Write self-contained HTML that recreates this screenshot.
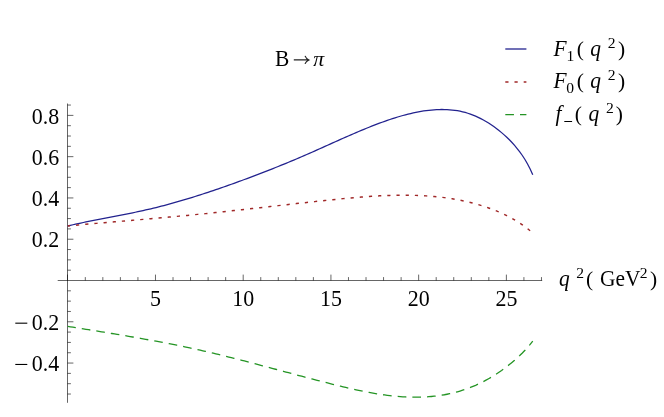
<!DOCTYPE html>
<html><head><meta charset="utf-8"><style>
html,body{margin:0;padding:0;background:#fff;}
svg{display:block;font-family:"Liberation Serif",serif;}
</style></head><body>
<svg width="664" height="417" viewBox="0 0 664 417">
<rect width="664" height="417" fill="#fff"/>
<line x1="57.7" y1="280.5" x2="542.2" y2="280.5" stroke="#000" stroke-opacity="0.6" stroke-width="1"/>
<line x1="67.5" y1="103.5" x2="67.5" y2="402.8" stroke="#000" stroke-opacity="0.6" stroke-width="1"/>
<line x1="67.50" y1="280.5" x2="67.50" y2="274.6" stroke="#000" stroke-opacity="0.6" stroke-width="1"/>
<line x1="85.30" y1="280.5" x2="85.30" y2="277.1" stroke="#000" stroke-opacity="0.6" stroke-width="1"/>
<line x1="102.84" y1="280.5" x2="102.84" y2="277.1" stroke="#000" stroke-opacity="0.6" stroke-width="1"/>
<line x1="120.39" y1="280.5" x2="120.39" y2="277.1" stroke="#000" stroke-opacity="0.6" stroke-width="1"/>
<line x1="137.93" y1="280.5" x2="137.93" y2="277.1" stroke="#000" stroke-opacity="0.6" stroke-width="1"/>
<line x1="155.48" y1="280.5" x2="155.48" y2="274.6" stroke="#000" stroke-opacity="0.6" stroke-width="1"/>
<line x1="173.02" y1="280.5" x2="173.02" y2="277.1" stroke="#000" stroke-opacity="0.6" stroke-width="1"/>
<line x1="190.56" y1="280.5" x2="190.56" y2="277.1" stroke="#000" stroke-opacity="0.6" stroke-width="1"/>
<line x1="208.11" y1="280.5" x2="208.11" y2="277.1" stroke="#000" stroke-opacity="0.6" stroke-width="1"/>
<line x1="225.66" y1="280.5" x2="225.66" y2="277.1" stroke="#000" stroke-opacity="0.6" stroke-width="1"/>
<line x1="243.20" y1="280.5" x2="243.20" y2="274.6" stroke="#000" stroke-opacity="0.6" stroke-width="1"/>
<line x1="260.75" y1="280.5" x2="260.75" y2="277.1" stroke="#000" stroke-opacity="0.6" stroke-width="1"/>
<line x1="278.29" y1="280.5" x2="278.29" y2="277.1" stroke="#000" stroke-opacity="0.6" stroke-width="1"/>
<line x1="295.84" y1="280.5" x2="295.84" y2="277.1" stroke="#000" stroke-opacity="0.6" stroke-width="1"/>
<line x1="313.38" y1="280.5" x2="313.38" y2="277.1" stroke="#000" stroke-opacity="0.6" stroke-width="1"/>
<line x1="330.93" y1="280.5" x2="330.93" y2="274.6" stroke="#000" stroke-opacity="0.6" stroke-width="1"/>
<line x1="348.47" y1="280.5" x2="348.47" y2="277.1" stroke="#000" stroke-opacity="0.6" stroke-width="1"/>
<line x1="366.02" y1="280.5" x2="366.02" y2="277.1" stroke="#000" stroke-opacity="0.6" stroke-width="1"/>
<line x1="383.56" y1="280.5" x2="383.56" y2="277.1" stroke="#000" stroke-opacity="0.6" stroke-width="1"/>
<line x1="401.11" y1="280.5" x2="401.11" y2="277.1" stroke="#000" stroke-opacity="0.6" stroke-width="1"/>
<line x1="418.65" y1="280.5" x2="418.65" y2="274.6" stroke="#000" stroke-opacity="0.6" stroke-width="1"/>
<line x1="436.20" y1="280.5" x2="436.20" y2="277.1" stroke="#000" stroke-opacity="0.6" stroke-width="1"/>
<line x1="453.74" y1="280.5" x2="453.74" y2="277.1" stroke="#000" stroke-opacity="0.6" stroke-width="1"/>
<line x1="471.29" y1="280.5" x2="471.29" y2="277.1" stroke="#000" stroke-opacity="0.6" stroke-width="1"/>
<line x1="488.83" y1="280.5" x2="488.83" y2="277.1" stroke="#000" stroke-opacity="0.6" stroke-width="1"/>
<line x1="506.38" y1="280.5" x2="506.38" y2="274.6" stroke="#000" stroke-opacity="0.6" stroke-width="1"/>
<line x1="523.92" y1="280.5" x2="523.92" y2="277.1" stroke="#000" stroke-opacity="0.6" stroke-width="1"/>
<line x1="541.47" y1="280.5" x2="541.47" y2="277.1" stroke="#000" stroke-opacity="0.6" stroke-width="1"/>
<line x1="67.5" y1="394.02" x2="70.9" y2="394.02" stroke="#000" stroke-opacity="0.6" stroke-width="1"/>
<line x1="67.5" y1="383.70" x2="70.9" y2="383.70" stroke="#000" stroke-opacity="0.6" stroke-width="1"/>
<line x1="67.5" y1="373.38" x2="70.9" y2="373.38" stroke="#000" stroke-opacity="0.6" stroke-width="1"/>
<line x1="67.5" y1="363.06" x2="73.4" y2="363.06" stroke="#000" stroke-opacity="0.6" stroke-width="1"/>
<line x1="67.5" y1="352.74" x2="70.9" y2="352.74" stroke="#000" stroke-opacity="0.6" stroke-width="1"/>
<line x1="67.5" y1="342.42" x2="70.9" y2="342.42" stroke="#000" stroke-opacity="0.6" stroke-width="1"/>
<line x1="67.5" y1="332.10" x2="70.9" y2="332.10" stroke="#000" stroke-opacity="0.6" stroke-width="1"/>
<line x1="67.5" y1="321.78" x2="73.4" y2="321.78" stroke="#000" stroke-opacity="0.6" stroke-width="1"/>
<line x1="67.5" y1="311.46" x2="70.9" y2="311.46" stroke="#000" stroke-opacity="0.6" stroke-width="1"/>
<line x1="67.5" y1="301.14" x2="70.9" y2="301.14" stroke="#000" stroke-opacity="0.6" stroke-width="1"/>
<line x1="67.5" y1="290.82" x2="70.9" y2="290.82" stroke="#000" stroke-opacity="0.6" stroke-width="1"/>
<line x1="67.5" y1="270.18" x2="70.9" y2="270.18" stroke="#000" stroke-opacity="0.6" stroke-width="1"/>
<line x1="67.5" y1="259.86" x2="70.9" y2="259.86" stroke="#000" stroke-opacity="0.6" stroke-width="1"/>
<line x1="67.5" y1="249.54" x2="70.9" y2="249.54" stroke="#000" stroke-opacity="0.6" stroke-width="1"/>
<line x1="67.5" y1="239.22" x2="73.4" y2="239.22" stroke="#000" stroke-opacity="0.6" stroke-width="1"/>
<line x1="67.5" y1="228.90" x2="70.9" y2="228.90" stroke="#000" stroke-opacity="0.6" stroke-width="1"/>
<line x1="67.5" y1="218.58" x2="70.9" y2="218.58" stroke="#000" stroke-opacity="0.6" stroke-width="1"/>
<line x1="67.5" y1="208.26" x2="70.9" y2="208.26" stroke="#000" stroke-opacity="0.6" stroke-width="1"/>
<line x1="67.5" y1="197.94" x2="73.4" y2="197.94" stroke="#000" stroke-opacity="0.6" stroke-width="1"/>
<line x1="67.5" y1="187.62" x2="70.9" y2="187.62" stroke="#000" stroke-opacity="0.6" stroke-width="1"/>
<line x1="67.5" y1="177.30" x2="70.9" y2="177.30" stroke="#000" stroke-opacity="0.6" stroke-width="1"/>
<line x1="67.5" y1="166.98" x2="70.9" y2="166.98" stroke="#000" stroke-opacity="0.6" stroke-width="1"/>
<line x1="67.5" y1="156.66" x2="73.4" y2="156.66" stroke="#000" stroke-opacity="0.6" stroke-width="1"/>
<line x1="67.5" y1="146.34" x2="70.9" y2="146.34" stroke="#000" stroke-opacity="0.6" stroke-width="1"/>
<line x1="67.5" y1="136.02" x2="70.9" y2="136.02" stroke="#000" stroke-opacity="0.6" stroke-width="1"/>
<line x1="67.5" y1="125.70" x2="70.9" y2="125.70" stroke="#000" stroke-opacity="0.6" stroke-width="1"/>
<line x1="67.5" y1="115.38" x2="73.4" y2="115.38" stroke="#000" stroke-opacity="0.6" stroke-width="1"/>
<line x1="67.5" y1="105.06" x2="70.9" y2="105.06" stroke="#000" stroke-opacity="0.6" stroke-width="1"/>
<line x1="15.3" y1="323.18" x2="27.3" y2="323.18" stroke="#000" stroke-width="1.1"/>
<line x1="15.3" y1="364.46" x2="27.3" y2="364.46" stroke="#000" stroke-width="1.1"/>
<path d="M293.8 59.9 H308.3 M305 55.9 Q306 58.6 308.9 59.9 Q306 61.2 305 63.9" fill="none" stroke="#222" stroke-width="1.15"/>
<line x1="505.3" y1="49.00" x2="526.4" y2="49.00" stroke="#22228e" stroke-width="1.3"/>
<line x1="505.3" y1="82.00" x2="526.4" y2="82.00" stroke="#a02828" stroke-width="1.3" stroke-dasharray="3.2 5.996"/>
<line x1="505.3" y1="114.60" x2="526.4" y2="114.60" stroke="#249424" stroke-width="1.3" stroke-dasharray="8.65 6.05"/>
<line x1="564.3" y1="121.50" x2="572.0999999999999" y2="121.50" stroke="#000" stroke-width="1"/>
<path d="M67.75 225.94 L70.35 225.34 L72.95 224.75 L75.54 224.17 L78.14 223.61 L80.74 223.06 L83.34 222.51 L85.93 221.98 L88.53 221.45 L91.13 220.93 L93.73 220.41 L96.33 219.90 L98.92 219.39 L101.52 218.89 L104.12 218.39 L106.72 217.89 L109.31 217.39 L111.91 216.89 L114.51 216.39 L117.11 215.89 L119.71 215.38 L122.30 214.88 L124.90 214.36 L127.50 213.84 L130.10 213.32 L132.69 212.78 L135.29 212.24 L137.89 211.69 L140.49 211.13 L143.09 210.56 L145.68 209.98 L148.28 209.38 L150.88 208.77 L153.48 208.15 L156.07 207.52 L158.67 206.87 L161.27 206.20 L163.87 205.53 L166.47 204.84 L169.06 204.14 L171.66 203.42 L174.26 202.70 L176.86 201.96 L179.45 201.22 L182.05 200.46 L184.65 199.69 L187.25 198.90 L189.84 198.11 L192.44 197.31 L195.04 196.50 L197.64 195.68 L200.24 194.85 L202.83 194.01 L205.43 193.16 L208.03 192.30 L210.63 191.44 L213.22 190.56 L215.82 189.68 L218.42 188.79 L221.02 187.90 L223.62 186.99 L226.21 186.08 L228.81 185.17 L231.41 184.24 L234.01 183.31 L236.60 182.38 L239.20 181.43 L241.80 180.48 L244.40 179.53 L247.00 178.57 L249.59 177.60 L252.19 176.62 L254.79 175.64 L257.39 174.65 L259.98 173.66 L262.58 172.65 L265.18 171.65 L267.78 170.63 L270.38 169.61 L272.97 168.58 L275.57 167.54 L278.17 166.49 L280.77 165.44 L283.36 164.38 L285.96 163.32 L288.56 162.24 L291.16 161.16 L293.76 160.07 L296.35 158.97 L298.95 157.87 L301.55 156.76 L304.15 155.64 L306.74 154.51 L309.34 153.38 L311.94 152.24 L314.54 151.09 L317.14 149.93 L319.73 148.77 L322.33 147.61 L324.93 146.44 L327.53 145.27 L330.12 144.10 L332.72 142.93 L335.32 141.76 L337.92 140.60 L340.52 139.44 L343.11 138.28 L345.71 137.13 L348.31 135.99 L350.91 134.85 L353.50 133.73 L356.10 132.61 L358.70 131.50 L361.30 130.41 L363.90 129.33 L366.49 128.26 L369.09 127.21 L371.69 126.18 L374.29 125.17 L376.88 124.17 L379.48 123.19 L382.08 122.23 L384.68 121.30 L387.28 120.39 L389.87 119.50 L392.47 118.65 L395.07 117.82 L397.67 117.02 L400.26 116.25 L402.86 115.51 L405.46 114.81 L408.06 114.14 L410.66 113.52 L413.25 112.93 L415.85 112.38 L418.45 111.87 L421.05 111.41 L423.64 110.99 L426.24 110.62 L428.84 110.30 L431.44 110.03 L434.03 109.81 L436.63 109.64 L439.23 109.54 L441.83 109.49 L444.43 109.52 L447.02 109.61 L449.62 109.77 L452.22 110.01 L454.82 110.33 L457.41 110.73 L460.01 111.22 L462.61 111.80 L465.21 112.47 L467.81 113.24 L470.40 114.11 L473.00 115.08 L475.60 116.15 L478.20 117.32 L480.79 118.60 L483.39 119.99 L485.99 121.47 L488.59 123.07 L491.19 124.77 L493.78 126.57 L496.38 128.48 L498.98 130.50 L501.58 132.63 L504.17 134.87 L506.77 137.25 L509.37 139.79 L511.97 142.50 L514.57 145.41 L517.16 148.54 L519.76 151.89 L522.36 155.51 L524.96 159.49 L527.55 163.94 L530.15 168.97 L532.75 174.72" fill="none" stroke="#22228e" stroke-width="1.25"/>
<path d="M67.75 225.92 L70.35 225.68 L72.95 225.45 L75.54 225.21 L78.14 224.98 L80.74 224.74 L83.34 224.51 L85.93 224.28 L88.53 224.06 L91.13 223.83 L93.73 223.60 L96.33 223.38 L98.92 223.15 L101.52 222.93 L104.12 222.71 L106.72 222.48 L109.31 222.26 L111.91 222.04 L114.51 221.82 L117.11 221.60 L119.71 221.38 L122.30 221.15 L124.90 220.93 L127.50 220.71 L130.10 220.49 L132.69 220.27 L135.29 220.05 L137.89 219.83 L140.49 219.60 L143.09 219.38 L145.68 219.16 L148.28 218.93 L150.88 218.71 L153.48 218.48 L156.07 218.25 L158.67 218.02 L161.27 217.79 L163.87 217.56 L166.47 217.33 L169.06 217.09 L171.66 216.86 L174.26 216.62 L176.86 216.38 L179.45 216.14 L182.05 215.90 L184.65 215.65 L187.25 215.41 L189.84 215.16 L192.44 214.91 L195.04 214.65 L197.64 214.40 L200.24 214.14 L202.83 213.88 L205.43 213.62 L208.03 213.35 L210.63 213.08 L213.22 212.81 L215.82 212.54 L218.42 212.27 L221.02 211.99 L223.62 211.71 L226.21 211.43 L228.81 211.15 L231.41 210.87 L234.01 210.58 L236.60 210.30 L239.20 210.01 L241.80 209.73 L244.40 209.44 L247.00 209.15 L249.59 208.86 L252.19 208.57 L254.79 208.27 L257.39 207.98 L259.98 207.69 L262.58 207.39 L265.18 207.10 L267.78 206.81 L270.38 206.51 L272.97 206.22 L275.57 205.93 L278.17 205.63 L280.77 205.34 L283.36 205.05 L285.96 204.76 L288.56 204.46 L291.16 204.17 L293.76 203.88 L296.35 203.59 L298.95 203.30 L301.55 203.02 L304.15 202.73 L306.74 202.45 L309.34 202.16 L311.94 201.88 L314.54 201.60 L317.14 201.32 L319.73 201.04 L322.33 200.77 L324.93 200.50 L327.53 200.22 L330.12 199.95 L332.72 199.69 L335.32 199.42 L337.92 199.16 L340.52 198.90 L343.11 198.65 L345.71 198.40 L348.31 198.16 L350.91 197.92 L353.50 197.69 L356.10 197.47 L358.70 197.25 L361.30 197.04 L363.90 196.84 L366.49 196.65 L369.09 196.47 L371.69 196.30 L374.29 196.13 L376.88 195.98 L379.48 195.84 L382.08 195.72 L384.68 195.60 L387.28 195.50 L389.87 195.41 L392.47 195.34 L395.07 195.28 L397.67 195.23 L400.26 195.20 L402.86 195.19 L405.46 195.19 L408.06 195.22 L410.66 195.25 L413.25 195.31 L415.85 195.39 L418.45 195.48 L421.05 195.59 L423.64 195.73 L426.24 195.88 L428.84 196.06 L431.44 196.26 L434.03 196.48 L436.63 196.73 L439.23 197.00 L441.83 197.30 L444.43 197.62 L447.02 197.98 L449.62 198.36 L452.22 198.76 L454.82 199.20 L457.41 199.67 L460.01 200.17 L462.61 200.70 L465.21 201.26 L467.81 201.86 L470.40 202.49 L473.00 203.16 L475.60 203.86 L478.20 204.60 L480.79 205.37 L483.39 206.19 L485.99 207.04 L488.59 207.94 L491.19 208.89 L493.78 209.88 L496.38 210.92 L498.98 212.02 L501.58 213.17 L504.17 214.38 L506.77 215.65 L509.37 216.98 L511.97 218.38 L514.57 219.85 L517.16 221.40 L519.76 223.05 L522.36 224.80 L524.96 226.66 L527.55 228.65 L530.15 230.77 L532.75 233.04" fill="none" stroke="#a02828" stroke-width="1.45" stroke-dasharray="3.2 5.996" stroke-dashoffset="0.85"/>
<path d="M67.75 326.40 L70.35 326.81 L72.95 327.23 L75.54 327.64 L78.14 328.06 L80.74 328.47 L83.34 328.89 L85.93 329.30 L88.53 329.71 L91.13 330.13 L93.73 330.55 L96.33 330.96 L98.92 331.38 L101.52 331.80 L104.12 332.22 L106.72 332.65 L109.31 333.07 L111.91 333.50 L114.51 333.92 L117.11 334.35 L119.71 334.79 L122.30 335.22 L124.90 335.66 L127.50 336.10 L130.10 336.54 L132.69 336.99 L135.29 337.44 L137.89 337.89 L140.49 338.35 L143.09 338.81 L145.68 339.27 L148.28 339.74 L150.88 340.21 L153.48 340.69 L156.07 341.17 L158.67 341.66 L161.27 342.15 L163.87 342.65 L166.47 343.15 L169.06 343.65 L171.66 344.16 L174.26 344.68 L176.86 345.20 L179.45 345.73 L182.05 346.27 L184.65 346.81 L187.25 347.35 L189.84 347.91 L192.44 348.47 L195.04 349.04 L197.64 349.61 L200.24 350.19 L202.83 350.78 L205.43 351.37 L208.03 351.98 L210.63 352.59 L213.22 353.20 L215.82 353.82 L218.42 354.45 L221.02 355.08 L223.62 355.72 L226.21 356.36 L228.81 357.01 L231.41 357.66 L234.01 358.32 L236.60 358.98 L239.20 359.65 L241.80 360.32 L244.40 360.99 L247.00 361.66 L249.59 362.34 L252.19 363.02 L254.79 363.71 L257.39 364.40 L259.98 365.08 L262.58 365.78 L265.18 366.47 L267.78 367.16 L270.38 367.86 L272.97 368.55 L275.57 369.25 L278.17 369.95 L280.77 370.64 L283.36 371.34 L285.96 372.04 L288.56 372.73 L291.16 373.43 L293.76 374.13 L296.35 374.82 L298.95 375.51 L301.55 376.20 L304.15 376.89 L306.74 377.58 L309.34 378.26 L311.94 378.95 L314.54 379.63 L317.14 380.30 L319.73 380.97 L322.33 381.64 L324.93 382.31 L327.53 382.97 L330.12 383.63 L332.72 384.28 L335.32 384.93 L337.92 385.57 L340.52 386.21 L343.11 386.83 L345.71 387.45 L348.31 388.06 L350.91 388.65 L353.50 389.24 L356.10 389.81 L358.70 390.36 L361.30 390.91 L363.90 391.43 L366.49 391.94 L369.09 392.43 L371.69 392.91 L374.29 393.36 L376.88 393.80 L379.48 394.21 L382.08 394.60 L384.68 394.96 L387.28 395.30 L389.87 395.62 L392.47 395.91 L395.07 396.18 L397.67 396.41 L400.26 396.62 L402.86 396.79 L405.46 396.94 L408.06 397.05 L410.66 397.13 L413.25 397.18 L415.85 397.19 L418.45 397.17 L421.05 397.11 L423.64 397.01 L426.24 396.88 L428.84 396.70 L431.44 396.48 L434.03 396.22 L436.63 395.92 L439.23 395.57 L441.83 395.18 L444.43 394.74 L447.02 394.24 L449.62 393.70 L452.22 393.11 L454.82 392.47 L457.41 391.77 L460.01 391.02 L462.61 390.21 L465.21 389.34 L467.81 388.42 L470.40 387.43 L473.00 386.38 L475.60 385.28 L478.20 384.11 L480.79 382.87 L483.39 381.57 L485.99 380.20 L488.59 378.76 L491.19 377.25 L493.78 375.67 L496.38 374.02 L498.98 372.29 L501.58 370.49 L504.17 368.61 L506.77 366.65 L509.37 364.61 L511.97 362.48 L514.57 360.27 L517.16 357.95 L519.76 355.52 L522.36 352.96 L524.96 350.26 L527.55 347.41 L530.15 344.39 L532.75 341.20" fill="none" stroke="#249424" stroke-width="1.3" stroke-dasharray="8.65 6.05" stroke-dashoffset="0.5"/>
<g style="opacity:0.999">
<text transform="translate(59.2,123.58) scale(0.93,1)" font-size="23.6" text-anchor="end">0.8</text>
<text transform="translate(59.2,164.85999999999999) scale(0.93,1)" font-size="23.6" text-anchor="end">0.6</text>
<text transform="translate(59.2,206.14) scale(0.93,1)" font-size="23.6" text-anchor="end">0.4</text>
<text transform="translate(59.2,247.42) scale(0.93,1)" font-size="23.6" text-anchor="end">0.2</text>
<text transform="translate(59.2,329.97999999999996) scale(0.93,1)" font-size="23.6" text-anchor="end">0.2</text>
<text transform="translate(59.2,371.26) scale(0.93,1)" font-size="23.6" text-anchor="end">0.4</text>
<text transform="translate(155.47500000000002,306) scale(0.93,1)" font-size="23.6" text-anchor="middle">5</text>
<text transform="translate(243.20000000000002,306) scale(0.93,1)" font-size="23.6" text-anchor="middle">10</text>
<text transform="translate(330.925,306) scale(0.93,1)" font-size="23.6" text-anchor="middle">15</text>
<text transform="translate(418.65000000000003,306) scale(0.93,1)" font-size="23.6" text-anchor="middle">20</text>
<text transform="translate(506.37500000000006,306) scale(0.93,1)" font-size="23.6" text-anchor="middle">25</text>
<text transform="translate(275,65.7) scale(0.955,1)" font-size="22.5" text-anchor="start">B</text>
<text transform="translate(313.3,65.7) scale(1.06,1)" font-size="20.6" text-anchor="start" font-style="italic">π</text>
<text transform="translate(558.9,285.8) scale(0.955,1)" font-size="22.5" text-anchor="start" font-style="italic">q</text>
<text transform="translate(576.3,277.9) scale(1.0,1)" font-size="15.6" text-anchor="start">2</text>
<text transform="translate(586.0,285.8) scale(1.05,1)" font-size="20.5" text-anchor="start">(</text>
<text transform="translate(600,285.8) scale(0.955,1)" font-size="22.5" text-anchor="start">GeV</text>
<text transform="translate(639.8,277.9) scale(1.0,1)" font-size="15.6" text-anchor="start">2</text>
<text transform="translate(650.0,285.8) scale(1.05,1)" font-size="20.5" text-anchor="start">)</text>
<text transform="translate(553.5,55.7) scale(0.955,1)" font-size="22.5" text-anchor="start" font-style="italic">F</text>
<text transform="translate(566.5,60.5) scale(1.0,1)" font-size="15.6" text-anchor="start">1</text>
<text transform="translate(576.7,55.7) scale(1.05,1)" font-size="20.5" text-anchor="start">(</text>
<text transform="translate(590.3,55.7) scale(0.955,1)" font-size="22.5" text-anchor="start" font-style="italic">q</text>
<text transform="translate(607.8,47.7) scale(1.0,1)" font-size="15.6" text-anchor="start">2</text>
<text transform="translate(618.0,55.7) scale(1.05,1)" font-size="20.5" text-anchor="start">)</text>
<text transform="translate(553.5,88.30000000000001) scale(0.955,1)" font-size="22.5" text-anchor="start" font-style="italic">F</text>
<text transform="translate(566.3,93.10000000000001) scale(1.0,1)" font-size="15.6" text-anchor="start">0</text>
<text transform="translate(576.7,88.30000000000001) scale(1.05,1)" font-size="20.5" text-anchor="start">(</text>
<text transform="translate(590.3,88.30000000000001) scale(0.955,1)" font-size="22.5" text-anchor="start" font-style="italic">q</text>
<text transform="translate(607.8,80.30000000000001) scale(1.0,1)" font-size="15.6" text-anchor="start">2</text>
<text transform="translate(618.0,88.30000000000001) scale(1.05,1)" font-size="20.5" text-anchor="start">)</text>
<text transform="translate(555.5,120.9) scale(0.955,1)" font-size="22.5" text-anchor="start" font-style="italic">f</text>
<text transform="translate(574.7,120.9) scale(1.05,1)" font-size="20.5" text-anchor="start">(</text>
<text transform="translate(588.5,120.9) scale(0.955,1)" font-size="22.5" text-anchor="start" font-style="italic">q</text>
<text transform="translate(606,112.9) scale(1.0,1)" font-size="15.6" text-anchor="start">2</text>
<text transform="translate(615.8,120.9) scale(1.05,1)" font-size="20.5" text-anchor="start">)</text>
</g>
</svg>
</body></html>
